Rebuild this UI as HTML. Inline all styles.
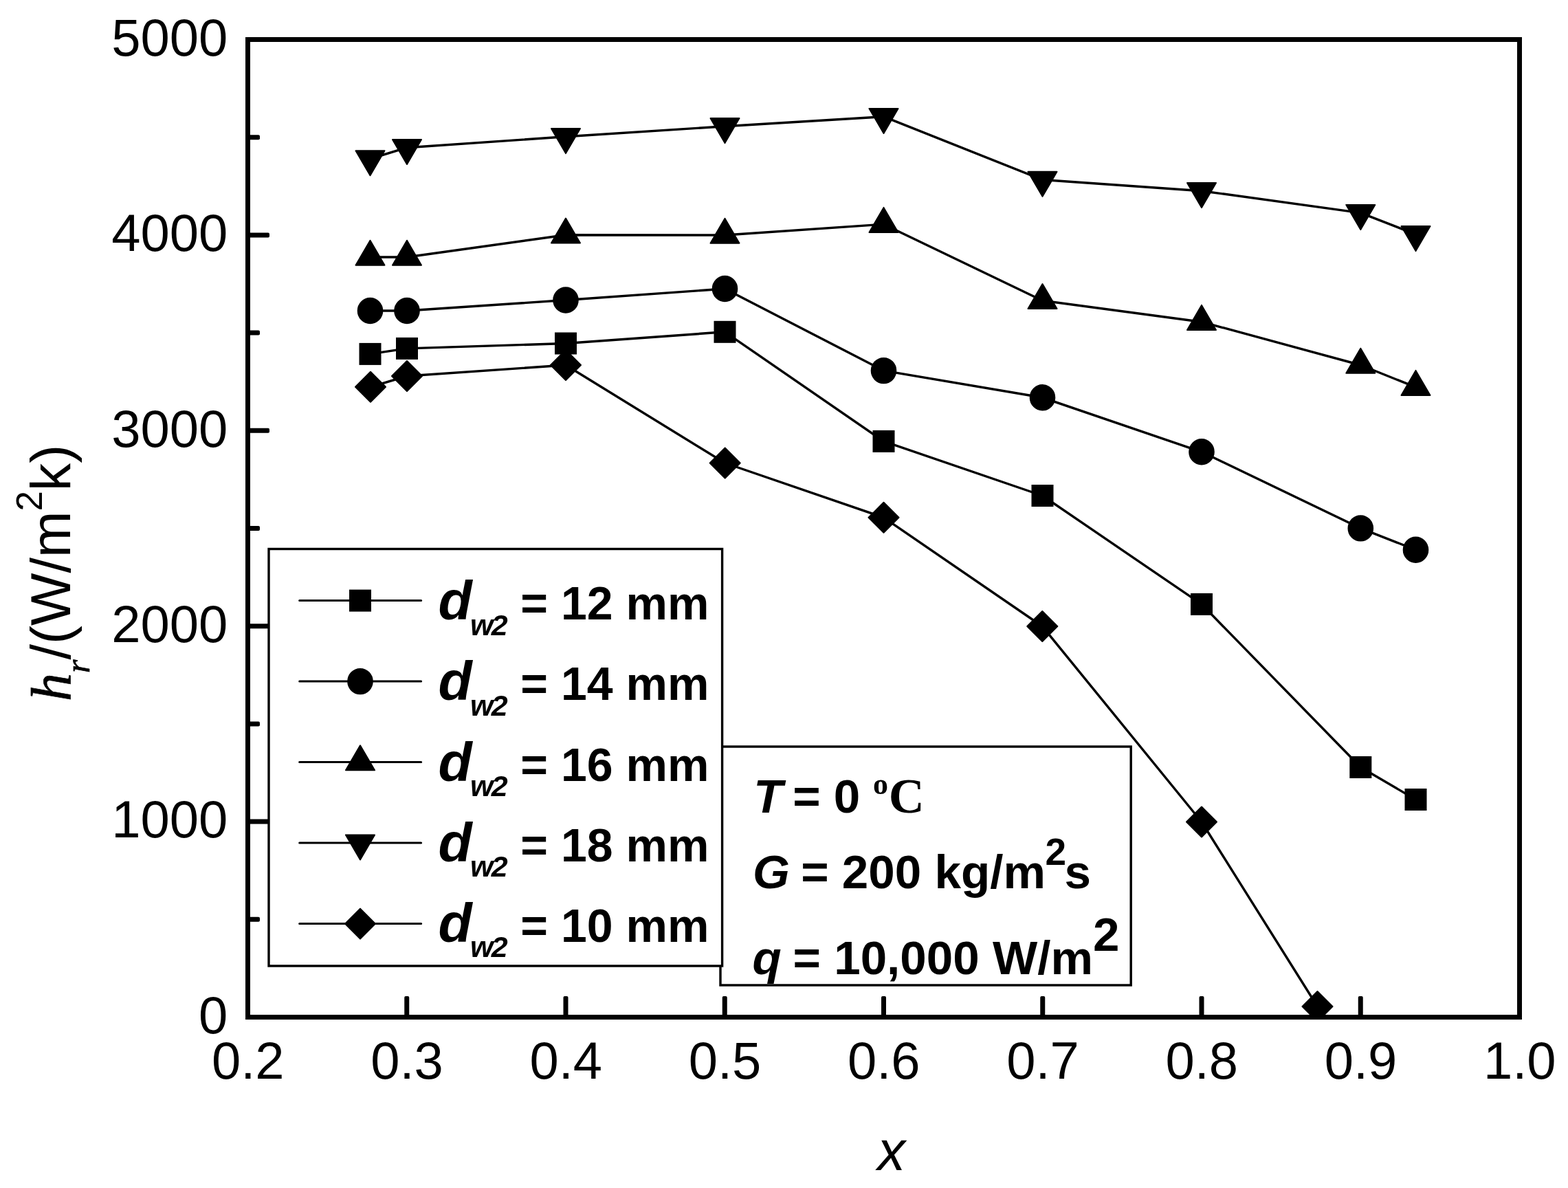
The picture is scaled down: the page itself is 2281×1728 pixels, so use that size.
<!DOCTYPE html>
<html lang="en">
<head>
<meta charset="utf-8">
<title>Heat transfer coefficient versus vapor quality</title>
<style>
html, body { margin: 0; padding: 0; background: #ffffff; }
body { width: 2281px; height: 1728px; overflow: hidden; }
svg { display: block; }
text { fill: #000; }
.tick { font-family: "Liberation Sans", Arial, Helvetica, sans-serif; font-size: 76px; }
.lab { font-family: "Liberation Sans", Arial, Helvetica, sans-serif; font-size: 81px; }
.b { font-family: "Liberation Sans", Arial, Helvetica, sans-serif; font-weight: bold; font-size: 68px; }
.ib { font-size: 69.2px; }
.bi { font-family: "Liberation Sans", Arial, Helvetica, sans-serif; font-weight: bold; font-style: italic; }
.serifb { font-family: "Liberation Serif", "Times New Roman", Times, serif; font-weight: bold; font-style: normal; }
.serif { font-family: "Liberation Serif", "Times New Roman", Times, serif; font-weight: normal; font-style: normal; }
.mk { fill: #000; stroke: #000; stroke-width: 2; stroke-linejoin: round; }
.ln { fill: none; stroke: #000; stroke-width: 3.4; stroke-linejoin: round; stroke-linecap: round; }
.ax { fill: none; stroke: #000; stroke-width: 7; stroke-linecap: round; }
.box { fill: #fff; stroke: #000; stroke-width: 3.4; }
</style>
</head>
<body>
<svg width="2281" height="1728" viewBox="0 0 2281 1728">
<rect x="0" y="0" width="2281" height="1728" fill="#ffffff"/>
<defs>
<clipPath id="plotclip"><rect x="360.5" y="57.5" width="1850.0" height="1425.5"/></clipPath>
</defs>

<g fill="#000">
<rect x="588.25" y="1449" width="7" height="32" rx="2"/>
<rect x="819.50" y="1449" width="7" height="32" rx="2"/>
<rect x="1050.75" y="1449" width="7" height="32" rx="2"/>
<rect x="1282.00" y="1449" width="7" height="32" rx="2"/>
<rect x="1513.25" y="1449" width="7" height="32" rx="2"/>
<rect x="1744.50" y="1449" width="7" height="32" rx="2"/>
<rect x="1975.75" y="1449" width="7" height="32" rx="2"/>
<rect x="360" y="1333.80" width="18" height="7" rx="2"/>
<rect x="360" y="1191.60" width="32" height="7" rx="2"/>
<rect x="360" y="1049.40" width="18" height="7" rx="2"/>
<rect x="360" y="907.20" width="32" height="7" rx="2"/>
<rect x="360" y="765.00" width="18" height="7" rx="2"/>
<rect x="360" y="622.80" width="32" height="7" rx="2"/>
<rect x="360" y="480.60" width="18" height="7" rx="2"/>
<rect x="360" y="338.40" width="32" height="7" rx="2"/>
<rect x="360" y="196.20" width="18" height="7" rx="2"/>
</g>
<g clip-path="url(#plotclip)">
<polyline class="ln" points="538.50,514.90 592.00,506.90 823.00,499.50 1054.50,482.80 1285.50,641.90 1516.50,721.00 1748.00,878.90 1979.30,1116.00 2059.50,1163.00"/>
<polyline class="ln" points="538.50,452.00 592.00,452.00 823.00,436.50 1054.50,420.00 1285.50,539.10 1516.50,578.30 1748.00,657.30 1979.30,768.40 2059.50,799.80"/>
<polyline class="ln" points="538.50,374.00 592.00,374.00 823.00,341.80 1054.50,342.00 1285.50,326.20 1516.50,437.30 1748.00,468.20 1979.30,531.00 2059.50,563.20"/>
<polyline class="ln" points="538.50,231.00 592.00,214.70 823.00,198.80 1054.50,183.80 1285.50,169.60 1516.50,261.50 1748.00,277.70 1979.30,309.60 2059.50,340.80"/>
<polyline class="ln" points="539.00,562.80 592.00,547.00 823.00,531.00 1054.70,673.50 1285.50,752.80 1516.30,911.00 1748.00,1195.50 1916.50,1464.00"/>
<g class="mk">
<rect x="522.50" y="498.90" width="32" height="32" stroke="none"/>
<rect x="576.00" y="490.90" width="32" height="32" stroke="none"/>
<rect x="807.00" y="483.50" width="32" height="32" stroke="none"/>
<rect x="1038.50" y="466.80" width="32" height="32" stroke="none"/>
<rect x="1269.50" y="625.90" width="32" height="32" stroke="none"/>
<rect x="1500.50" y="705.00" width="32" height="32" stroke="none"/>
<rect x="1732.00" y="862.90" width="32" height="32" stroke="none"/>
<rect x="1963.30" y="1100.00" width="32" height="32" stroke="none"/>
<rect x="2043.50" y="1147.00" width="32" height="32" stroke="none"/>
</g>
<g class="mk">
<ellipse cx="538.50" cy="452.00" rx="17.8" ry="18.2"/>
<ellipse cx="592.00" cy="452.00" rx="17.8" ry="18.2"/>
<ellipse cx="823.00" cy="436.50" rx="17.8" ry="18.2"/>
<ellipse cx="1054.50" cy="420.00" rx="17.8" ry="18.2"/>
<ellipse cx="1285.50" cy="539.10" rx="17.8" ry="18.2"/>
<ellipse cx="1516.50" cy="578.30" rx="17.8" ry="18.2"/>
<ellipse cx="1748.00" cy="657.30" rx="17.8" ry="18.2"/>
<ellipse cx="1979.30" cy="768.40" rx="17.8" ry="18.2"/>
<ellipse cx="2059.50" cy="799.80" rx="17.8" ry="18.2"/>
</g>
<g class="mk">
<polygon points="538.50,349.70 559.50,385.70 517.50,385.70"/>
<polygon points="592.00,349.70 613.00,385.70 571.00,385.70"/>
<polygon points="823.00,317.50 844.00,353.50 802.00,353.50"/>
<polygon points="1054.50,317.70 1075.50,353.70 1033.50,353.70"/>
<polygon points="1285.50,301.90 1306.50,337.90 1264.50,337.90"/>
<polygon points="1516.50,413.00 1537.50,449.00 1495.50,449.00"/>
<polygon points="1748.00,443.90 1769.00,479.90 1727.00,479.90"/>
<polygon points="1979.30,506.70 2000.30,542.70 1958.30,542.70"/>
<polygon points="2059.50,538.90 2080.50,574.90 2038.50,574.90"/>
</g>
<g class="mk">
<polygon points="517.50,219.30 559.50,219.30 538.50,255.30"/>
<polygon points="571.00,203.00 613.00,203.00 592.00,239.00"/>
<polygon points="802.00,187.10 844.00,187.10 823.00,223.10"/>
<polygon points="1033.50,172.10 1075.50,172.10 1054.50,208.10"/>
<polygon points="1264.50,157.90 1306.50,157.90 1285.50,193.90"/>
<polygon points="1495.50,249.80 1537.50,249.80 1516.50,285.80"/>
<polygon points="1727.00,266.00 1769.00,266.00 1748.00,302.00"/>
<polygon points="1958.30,297.90 2000.30,297.90 1979.30,333.90"/>
<polygon points="2038.50,329.10 2080.50,329.10 2059.50,365.10"/>
</g>
<g class="mk">
<polygon points="539.00,540.80 561.00,562.80 539.00,584.80 517.00,562.80"/>
<polygon points="592.00,525.00 614.00,547.00 592.00,569.00 570.00,547.00"/>
<polygon points="823.00,509.00 845.00,531.00 823.00,553.00 801.00,531.00"/>
<polygon points="1054.70,651.50 1076.70,673.50 1054.70,695.50 1032.70,673.50"/>
<polygon points="1285.50,730.80 1307.50,752.80 1285.50,774.80 1263.50,752.80"/>
<polygon points="1516.30,889.00 1538.30,911.00 1516.30,933.00 1494.30,911.00"/>
<polygon points="1748.00,1173.50 1770.00,1195.50 1748.00,1217.50 1726.00,1195.50"/>
<polygon points="1916.50,1442.00 1938.50,1464.00 1916.50,1486.00 1894.50,1464.00"/>
</g>
</g>
<rect class="box" x="1048.0" y="1086.0" width="597.20" height="347.00"/>
<text class="b ib" y="1182">
<tspan class="bi" x="1096.2">T</tspan><tspan x="1134"> = 0</tspan><tspan class="serifb" x="1270" dy="-27.3" font-size="44">o</tspan><tspan class="serifb" x="1292.7" dy="27.3" font-size="72">C</tspan>
</text>
<text class="b ib" y="1292">
<tspan class="bi" x="1095">G</tspan><tspan x="1146"> = 200 kg/m</tspan><tspan x="1520.5" dy="-33.8" font-size="55">2</tspan><tspan x="1548.5" dy="33.8">s</tspan>
</text>
<text class="b ib" y="1417">
<tspan class="bi" x="1094.5">q</tspan><tspan x="1134.3"> = 10,000 W/m</tspan><tspan x="1590" dy="-33.7">2</tspan>
</text>
<rect class="box" x="391.0" y="798.5" width="659.60" height="606.50"/>
<line class="ln" stroke-width="3" style="stroke-width:3" x1="435.7" y1="873.60" x2="612.6" y2="873.60"/>
<g class="mk"><rect x="508.00" y="857.60" width="32" height="32" stroke="none"/></g>
<text class="b" y="901.10"><tspan class="bi" x="637.6" font-size="80.5">d</tspan><tspan class="bi" x="684" dy="22.5" font-size="43" letter-spacing="-2.7">w2</tspan><tspan x="757.3" dy="-22.5" letter-spacing="0">= 12 mm</tspan></text>
<line class="ln" stroke-width="3" style="stroke-width:3" x1="435.7" y1="991.10" x2="612.6" y2="991.10"/>
<g class="mk"><ellipse cx="524.00" cy="991.10" rx="17.8" ry="18.2"/></g>
<text class="b" y="1018.30"><tspan class="bi" x="637.6" font-size="80.5">d</tspan><tspan class="bi" x="684" dy="22.5" font-size="43" letter-spacing="-2.7">w2</tspan><tspan x="757.3" dy="-22.5" letter-spacing="0">= 14 mm</tspan></text>
<line class="ln" stroke-width="3" style="stroke-width:3" x1="435.7" y1="1108.60" x2="612.6" y2="1108.60"/>
<g class="mk"><polygon points="524.00,1084.30 545.00,1120.30 503.00,1120.30"/></g>
<text class="b" y="1135.50"><tspan class="bi" x="637.6" font-size="80.5">d</tspan><tspan class="bi" x="684" dy="22.5" font-size="43" letter-spacing="-2.7">w2</tspan><tspan x="757.3" dy="-22.5" letter-spacing="0">= 16 mm</tspan></text>
<line class="ln" stroke-width="3" style="stroke-width:3" x1="435.7" y1="1226.10" x2="612.6" y2="1226.10"/>
<g class="mk"><polygon points="503.00,1214.40 545.00,1214.40 524.00,1250.40"/></g>
<text class="b" y="1252.70"><tspan class="bi" x="637.6" font-size="80.5">d</tspan><tspan class="bi" x="684" dy="22.5" font-size="43" letter-spacing="-2.7">w2</tspan><tspan x="757.3" dy="-22.5" letter-spacing="0">= 18 mm</tspan></text>
<line class="ln" stroke-width="3" style="stroke-width:3" x1="435.7" y1="1343.60" x2="612.6" y2="1343.60"/>
<g class="mk"><polygon points="524.00,1321.60 546.00,1343.60 524.00,1365.60 502.00,1343.60"/></g>
<text class="b" y="1369.90"><tspan class="bi" x="637.6" font-size="80.5">d</tspan><tspan class="bi" x="684" dy="22.5" font-size="43" letter-spacing="-2.7">w2</tspan><tspan x="757.3" dy="-22.5" letter-spacing="0">= 10 mm</tspan></text>
<rect x="360.5" y="57.5" width="1850.0" height="1422.0" fill="none" stroke="#000" stroke-width="7" stroke-linejoin="miter"/>
<g class="tick" text-anchor="end">
<text x="331.3" y="1502.70">0</text>
<text x="331.3" y="1218.30">1000</text>
<text x="331.3" y="933.90">2000</text>
<text x="331.3" y="649.50">3000</text>
<text x="331.3" y="365.10">4000</text>
<text x="331.3" y="80.70">5000</text>
</g>
<g class="tick" text-anchor="middle">
<text x="360.80" y="1568.7">0.2</text>
<text x="592.05" y="1568.7">0.3</text>
<text x="823.30" y="1568.7">0.4</text>
<text x="1054.55" y="1568.7">0.5</text>
<text x="1285.80" y="1568.7">0.6</text>
<text x="1517.05" y="1568.7">0.7</text>
<text x="1748.30" y="1568.7">0.8</text>
<text x="1979.55" y="1568.7">0.9</text>
<text x="2210.80" y="1568.7">1.0</text>
</g>
<text class="lab" x="1276.5" y="1701.7" font-style="italic">x</text>
<text class="lab" transform="translate(102.2,1020) rotate(-90)"><tspan class="serif" font-size="82" style="font-style:italic;stroke:#000;stroke-width:0.7">h</tspan><tspan class="serif" dy="28" font-size="50" style="font-style:italic;stroke:#000;stroke-width:0.7">r</tspan><tspan dy="-28">/(W/m</tspan><tspan dy="-41" font-size="53">2</tspan><tspan dy="41">k)</tspan></text>
</svg>
</body>
</html>
